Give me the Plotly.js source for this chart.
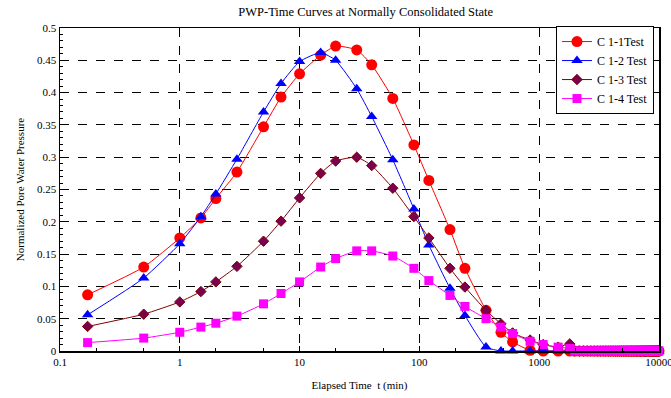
<!DOCTYPE html>
<html>
<head>
<meta charset="utf-8">
<script src="https://cdn.plot.ly/plotly-3.0.1.min.js"></script>
<style>html,body{margin:0;padding:0;background:#fff;}#chart{width:671px;height:398px;}</style>
</head>
<body>
<div id="chart"></div>
<script>
// Elapsed time (min)
const times = [0.17, 0.5, 1, 1.5, 2, 3, 5, 7, 10, 15, 20, 30, 40, 60, 90, 120, 180, 240, 360, 480, 600, 840, 1080, 1440, 1800,
  1980, 2160, 2340, 2520, 2700, 2880, 3060, 3240, 3420, 3600, 3780, 3960, 4140, 4320, 4500, 4680, 4860, 5040, 5220, 5400,
  5580, 5760, 5940, 6120, 6300, 6480, 6660, 6840, 7020, 7200, 7380, 7560, 7740, 7920, 8100, 8280, 8460, 8640, 8820, 9000,
  9180, 9360, 9540, 9720, 9900, 10000];

const tail = [0,0,0,0,0,0,0,0,0,0,0,0,0,0,0,0,0,0,0,0,0,0,0,0,0,0,0,0,0,0,0,0,0,0,0,0,0,0,0,0,0,0,0,0,0,0];

const c11Head = [0.087, 0.130, 0.175, 0.206, 0.236, 0.277, 0.347, 0.393, 0.429, 0.458, 0.472, 0.466, 0.443, 0.391, 0.319, 0.264, 0.188, 0.128, 0.063, 0.029, 0.014, 0.001, 0, 0, 0];
const c12Head = [0.056, 0.113, 0.166, 0.208, 0.243, 0.297, 0.370, 0.414, 0.448, 0.462, 0.450, 0.406, 0.363, 0.296, 0.220, 0.164, 0.097, 0.055, 0.006, 0, 0, 0, 0, 0, 0];
const c13Head = [0.038, 0.057, 0.076, 0.092, 0.107, 0.131, 0.170, 0.201, 0.237, 0.275, 0.294, 0.300, 0.287, 0.252, 0.208, 0.175, 0.128, 0.099, 0.063, 0.042, 0.028, 0.017, 0.010, 0.006, 0.011];
const c14Head = [0.013, 0.020, 0.029, 0.037, 0.043, 0.054, 0.073, 0.089, 0.107, 0.130, 0.143, 0.155, 0.155, 0.147, 0.128, 0.109, 0.086, 0.069, 0.050, 0.037, 0.027, 0.015, 0.010, 0.006, 0.004];

const c11 = c11Head.concat(tail);
const c12 = c12Head.concat(tail);
const c13 = c13Head.concat(tail);
const c14 = c14Head.concat(tail);

const seriesNames = ['C 1-1Test', 'C 1-2 Test', 'C 1-3 Test', 'C 1-4 Test'];
const xTickVals = [0.1, 1, 10, 100, 1000, 10000];
const xTickText = ['0.1', '1', '10', '100', '1000', '10000'];

const serif = 'Liberation Serif, Times New Roman, serif';
const lineShape = {shape: 'spline', smoothing: 0.5, width: 1};

const traces = [
  {x: times, y: c11, name: seriesNames[0], mode: 'lines+markers', cliponaxis: false,
   line: Object.assign({color: '#FF0000'}, lineShape),
   marker: {symbol: 'circle', size: 11, color: '#FF0000'}},
  {x: times, y: c12, name: seriesNames[1], mode: 'lines+markers', cliponaxis: false,
   line: Object.assign({color: '#0000FF'}, lineShape),
   marker: {symbol: 'triangle-up', size: 10, color: '#0000FF'}},
  {x: times, y: c13, name: seriesNames[2], mode: 'lines+markers', cliponaxis: false,
   line: Object.assign({color: '#800000'}, lineShape),
   marker: {symbol: 'diamond', size: 8, color: '#7A0050', line: {color: '#800000', width: 1}}},
  {x: times, y: c14, name: seriesNames[3], mode: 'lines+markers', cliponaxis: false,
   line: Object.assign({color: '#FF00FF'}, lineShape),
   marker: {symbol: 'square', size: 9, color: '#FF00FF'}}
];

const layout = {
  width: 671, height: 398,
  margin: {l: 60, r: 12, t: 28, b: 47},
  paper_bgcolor: '#fff', plot_bgcolor: '#fff',
  font: {family: serif, size: 11, color: '#000'},
  title: {text: 'PWP-Time Curves at Normally Consolidated State', font: {family: serif, size: 12.5, color: '#000'},
          x: 0.545, xanchor: 'center', y: 0.972, yanchor: 'middle'},
  xaxis: {
    type: 'log', range: [-1, 4.0004],
    tickmode: 'array', tickvals: xTickVals, ticktext: xTickText,
    ticklabeloverflow: 'allow',
    ticks: 'inside', ticklen: 5, tickcolor: '#000',
    showgrid: true, gridcolor: '#000', griddash: 'dash', gridwidth: 1,
    showline: true, linecolor: '#000', linewidth: 1.5, mirror: true,
    zeroline: false,
    minor: {ticks: 'inside', ticklen: 3, tickcolor: '#000', showgrid: false},
    tickfont: {family: serif, size: 11},
    title: {text: 'Elapsed Time  t (min)', font: {family: serif, size: 11}, standoff: 14}
  },
  yaxis: {
    range: [0, 0.5], dtick: 0.05, tick0: 0,
    ticks: 'inside', ticklen: 5, tickcolor: '#000',
    showgrid: true, gridcolor: '#000', griddash: 'dash', gridwidth: 1,
    showline: true, linecolor: '#000', linewidth: 1.5, mirror: true,
    zeroline: false,
    minor: {ticks: 'inside', ticklen: 3, tickcolor: '#000', dtick: 0.01, showgrid: false},
    tickfont: {family: serif, size: 11},
    title: {text: 'Normalized Pore Water Pressure', font: {family: serif, size: 11}, standoff: 10}
  },
  showlegend: true,
  legend: {x: 0.828, y: 1.006, xanchor: 'left', yanchor: 'top',
           bgcolor: '#fff', bordercolor: '#000', borderwidth: 1,
           font: {family: serif, size: 12}, tracegroupgap: 0, itemwidth: 30}
};

Plotly.newPlot('chart', traces, layout, {displayModeBar: false, staticPlot: true});
</script>
</body>
</html>
